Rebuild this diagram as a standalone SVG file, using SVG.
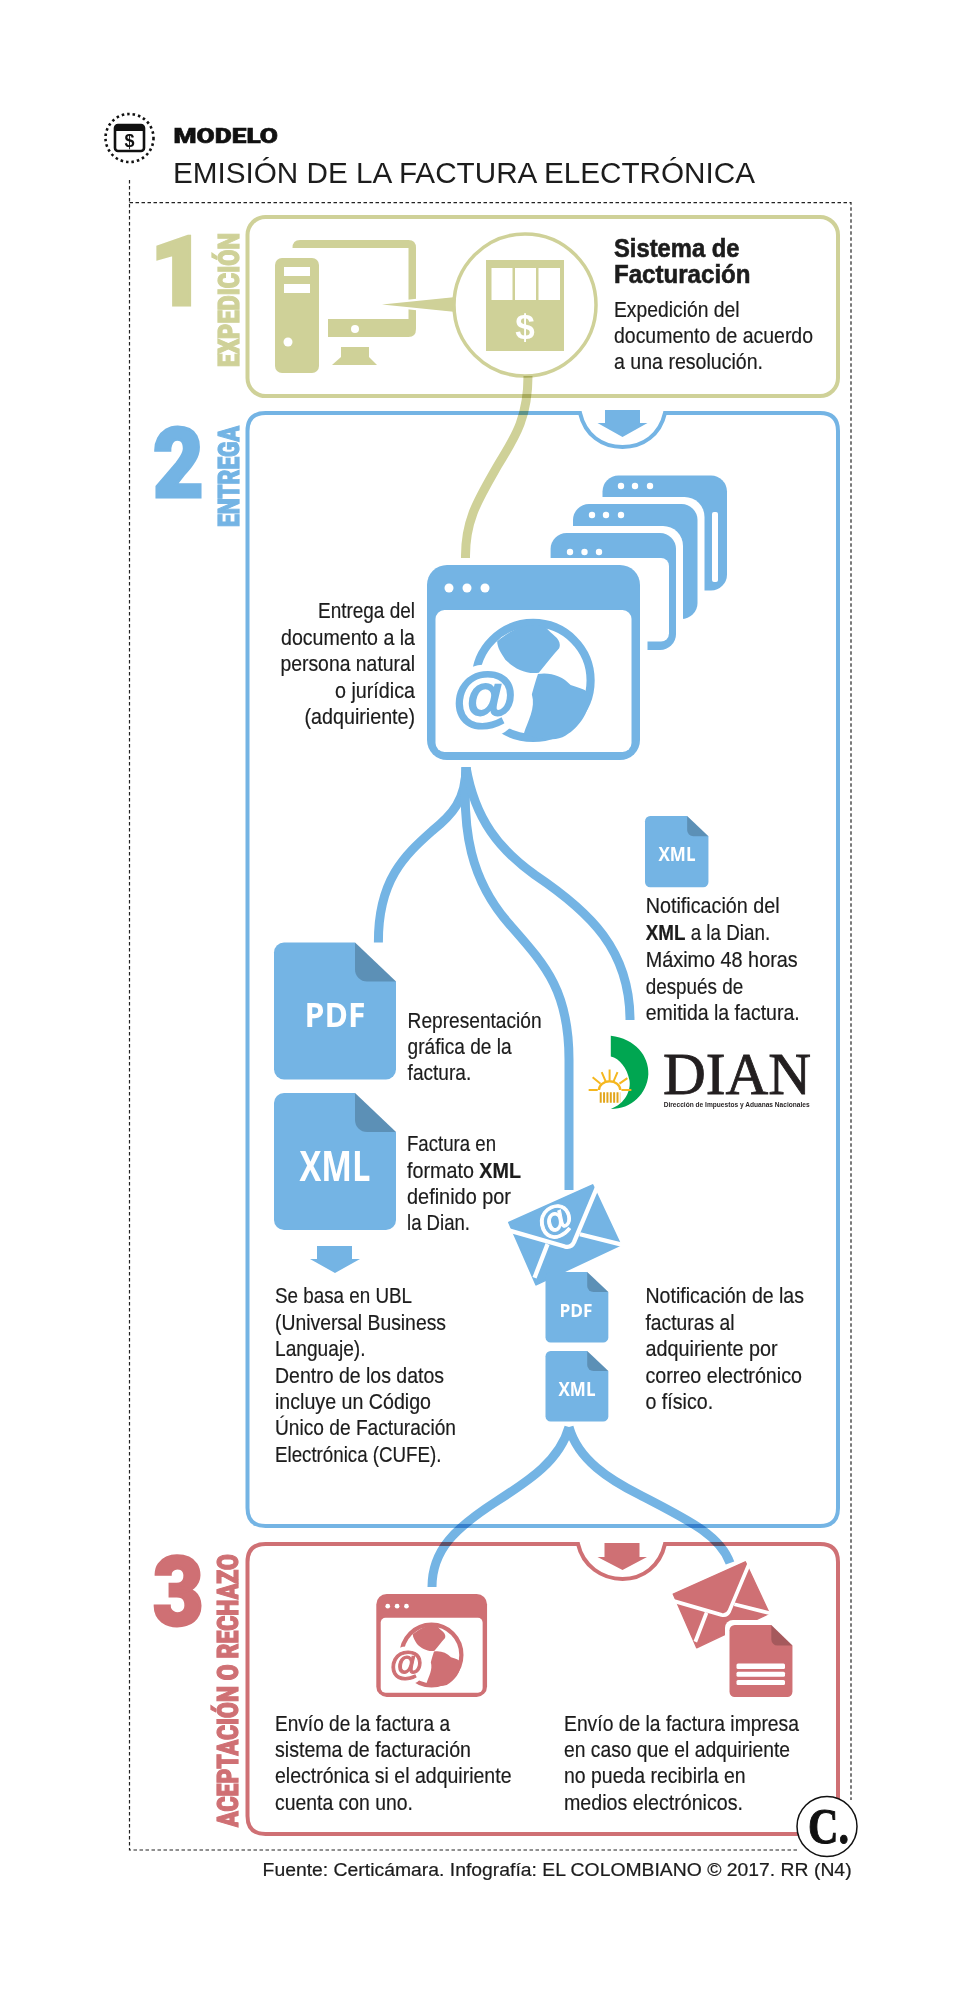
<svg xmlns="http://www.w3.org/2000/svg" xmlns:xlink="http://www.w3.org/1999/xlink" width="979" height="2000" viewBox="0 0 979 2000">
<style>
text{font-family:"Liberation Sans",Arial,sans-serif}
.t{font-size:22.5px;fill:#1c1c1c;stroke:#1c1c1c;stroke-width:.2px}
.lab{font-family:Roboto,"Liberation Sans",sans-serif;font-weight:900;font-size:30px;stroke-width:1.2px}
.num{font-family:Roboto,"Liberation Sans",sans-serif;font-weight:900;font-size:97px;stroke-width:3px}
.b{color:#74b4e4;fill:#74b4e4}
.o{color:#cfd198;fill:#cfd198}
.r{color:#cf7074;fill:#cf7074}
.lab.b,.num.b{stroke:#74b4e4}
.lab.o,.num.o{stroke:#cfd198}
.lab.r,.num.r{stroke:#cf7074}
.box{fill:none;stroke-width:4}
.dash{fill:none;stroke:#222;stroke-width:1.2;stroke-dasharray:3.5 2.5}
.conn{fill:none;stroke-width:9}
.wt{fill:#fff;font-weight:700;font-family:"Open Sans","Liberation Sans",sans-serif}
</style>
<defs>
<g id="doc">
<path fill="currentColor" d="M10 0H81L122 39V127a10 10 0 0 1-10 10H10a10 10 0 0 1-10-10V10a10 10 0 0 1 10-10z"/>
<path fill="#000" opacity=".2" d="M81 0L122 39H93a12 12 0 0 1-12-12z"/>
</g>
<g id="win">
<rect width="213" height="195" rx="20" fill="currentColor"/>
<rect x="8.5" y="45" width="196" height="142" rx="9" fill="#fff"/>
<circle cx="22" cy="23" r="4.5" fill="#fff"/><circle cx="40" cy="23" r="4.5" fill="#fff"/><circle cx="58" cy="23" r="4.5" fill="#fff"/>
<g transform="scale(.408) translate(-508 -258)">
<circle cx="768" cy="541" r="141" fill="none" stroke="currentColor" stroke-width="20"/>
<path fill="currentColor" d="M680 445C720 410 770 395 800 412C815 430 840 440 832 462C815 480 800 500 782 522C750 527 720 510 700 490C690 475 680 460 680 445Z"/>
<path fill="currentColor" d="M780 525C810 520 840 530 860 552C880 560 900 560 908 580C905 620 880 660 840 680C810 690 780 685 745 672C755 640 775 610 765 575C770 555 775 540 780 525Z"/>
<circle cx="650" cy="592" r="90" fill="#fff"/>
<text x="650" y="634" text-anchor="middle" font-size="160" font-weight="700" fill="currentColor" stroke="currentColor" stroke-width="5">@</text>
</g>
</g>
<g id="env">
<path fill="currentColor" stroke="currentColor" stroke-width="4" stroke-linejoin="round" d="M680 765L892 670L963 822L749 923Z"/>
<path fill="none" stroke="#fff" stroke-width="11" d="M680 785L822 826Q838 830 845 815L905 672M778 820L745 905M860 795L968 822"/>
</g>
</defs>
<rect width="979" height="2000" fill="#fff"/>

<g id="frame">
<path class="dash" d="M129.5 180V1850H798M129.5 202.7H851V1800"/>
</g>
<g id="header">
<circle cx="129.5" cy="138" r="24" fill="none" stroke="#111" stroke-width="2.6" stroke-dasharray="2.5 3"/>
<rect x="115" y="125" width="29" height="26" rx="3" fill="#fff" stroke="#111" stroke-width="2.6"/>
<rect x="115" y="125" width="29" height="6" fill="#111"/>
<text x="129.5" y="147" text-anchor="middle" font-size="18" font-weight="700" fill="#111">$</text>
<text x="173.500" y="143" font-size="21" font-weight="900" fill="#111" stroke="#111" stroke-width=".6" style="font-family:Roboto,sans-serif" textLength="104.500" lengthAdjust="spacingAndGlyphs">MODELO</text>
<text x="173" y="183" font-size="30" fill="#1c1c1c" textLength="582" lengthAdjust="spacingAndGlyphs">EMISIÓN DE LA FACTURA ELECTRÓNICA</text>
</g>

<g id="paso-1">
<rect class="box" x="247.500" y="217" width="590.500" height="179" rx="18" stroke="#cfd198"/>
<text class="num o" x="150" y="304.500">1</text>
<text class="lab o" transform="translate(239 367) rotate(-90)" textLength="134" lengthAdjust="spacingAndGlyphs">EXPEDICIÓN</text>
</g>
<g id="computador" class="o">
<path d="M292.500 248Q292.500 240 300 240H408.500Q416 240 416 248V329Q416 337 408.500 337H328V319H408.500V248Z"/>
<rect x="275" y="258" width="44" height="115" rx="7"/>
<rect x="284" y="267" width="26" height="9" fill="#fff"/><rect x="284" y="284" width="26" height="9" fill="#fff"/>
<circle cx="288" cy="342" r="4.500" fill="#fff"/><circle cx="355" cy="329" r="4" fill="#fff"/>
<path d="M341 347H369V357L377 365H332L341 357Z"/>
<path stroke="#fff" stroke-width="3" d="M378 304.500L456 296V313Z"/>
<path d="M382 304.500L456 297V312Z"/>
</g>
<g id="sistema">
<circle cx="525" cy="305" r="71" fill="#fff" stroke="#cfd198" stroke-width="3.500"/>
<rect class="o" x="486" y="260" width="78" height="91"/>
<rect x="491.500" y="268" width="21" height="32" fill="#fff"/><rect x="515" y="268" width="21" height="32" fill="#fff"/><rect x="538.500" y="268" width="21.500" height="32" fill="#fff"/>
<text x="525" y="339" text-anchor="middle" font-size="35" font-weight="700" fill="#fff">$</text>
<text class="t" x="614" y="257" style="font-size:25px;font-weight:700;stroke-width:.6px" textLength="125.500" lengthAdjust="spacingAndGlyphs">Sistema de</text>
<text class="t" x="614" y="283" style="font-size:25px;font-weight:700;stroke-width:.6px" textLength="136.500" lengthAdjust="spacingAndGlyphs">Facturación</text>
<text class="t" x="614" y="316.700" textLength="125.500" lengthAdjust="spacingAndGlyphs">Expedición del</text>
<text class="t" x="614" y="342.700" textLength="199" lengthAdjust="spacingAndGlyphs">documento de acuerdo</text>
<text class="t" x="614" y="369.300" textLength="149" lengthAdjust="spacingAndGlyphs">a una resolución.</text>
</g>

<g id="paso-2">
<path class="box" stroke="#74b4e4" d="M265.500 413H580C585 435 602 447 622.500 447C643 447 660 435 665 413H820Q838 413 838 431V1508Q838 1526 820 1526H265.500Q247.500 1526 247.500 1508V431Q247.500 413 265.500 413Z"/>
<path class="b" d="M605 410H640V423H647.500L622.500 437L597.500 423H605Z"/>
<text class="num b" transform="translate(153 496.500) scale(.9 1)">2</text>
<text class="lab b" transform="translate(239 527) rotate(-90)" textLength="101" lengthAdjust="spacingAndGlyphs">ENTREGA</text>
</g>
<g id="paso-3">
<path class="box" stroke="#cf7074" d="M265.500 1544H578C583 1566 602 1579 622.500 1579C643 1579 660 1566 665 1544H820Q838 1544 838 1562V1816Q838 1834 820 1834H265.500Q247.500 1834 247.500 1816V1562Q247.500 1544 265.500 1544Z"/>
<path class="r" d="M604.500 1543H639.500V1557H647L622.500 1570L597.500 1557H604.500Z"/>
<text class="num r" transform="translate(153 1625) scale(.9 1)">3</text>
<text class="lab r" transform="translate(238 1827) rotate(-90)" textLength="273" lengthAdjust="spacingAndGlyphs">ACEPTACIÓN O RECHAZO</text>
</g>

<g id="connectors">
<g style="mix-blend-mode:multiply">
<path class="conn" stroke="#cfd198" d="M528 376C528 420 513 440 498 465C478 500 465 520 465.500 558"/>
</g>
<g style="mix-blend-mode:multiply" stroke="#74b4e4">
<path class="conn" d="M466 767C466 800 452 815 432 831C405 855 378 880 378.400 942.500"/>
<path class="conn" d="M466 767C462 830 470 880 510 925C545 965 569 990 569 1060V1190"/>
<path class="conn" d="M466 767C475 820 500 850 535 875C590 912 630 950 630 1020"/>
<path class="conn" d="M569 1427C560 1460 530 1480 497 1501C455 1528 432 1550 432 1587"/>
<path class="conn" d="M569 1427C578 1460 610 1480 640 1495C688 1520 720 1535 730 1563"/>
</g>
</g>

<g id="ventanas" class="b">
<rect x="602.500" y="475.500" width="124.500" height="115" rx="16"/>
<rect x="712" y="512" width="6" height="70" rx="2" fill="#fff"/>
<circle cx="621" cy="486" r="3.200" fill="#fff"/><circle cx="635" cy="486" r="3.200" fill="#fff"/><circle cx="650" cy="486" r="3.200" fill="#fff"/>
<rect x="566" y="497" width="138.500" height="129" rx="20" fill="#fff"/>
<rect x="573" y="504" width="124.500" height="115" rx="16"/>
<circle cx="592" cy="515" r="3.200" fill="#fff"/><circle cx="606" cy="515" r="3.200" fill="#fff"/><circle cx="621" cy="515" r="3.200" fill="#fff"/>
<rect x="543.600" y="526" width="139.400" height="131" rx="20" fill="#fff"/>
<rect x="550.600" y="533" width="125.400" height="117" rx="16"/>
<rect x="560" y="558" width="109" height="83.500" rx="8" fill="#fff"/>
<circle cx="570" cy="552" r="3.200" fill="#fff"/><circle cx="584.500" cy="552" r="3.200" fill="#fff"/><circle cx="599" cy="552" r="3.200" fill="#fff"/>
<rect x="420" y="558" width="227.500" height="209" rx="26" fill="#fff"/>
<use xlink:href="#win" href="#win" x="427" y="565"/>
</g>
<g id="entrega-texto">
<text class="t" x="318" y="618" textLength="97" lengthAdjust="spacingAndGlyphs">Entrega del</text>
<text class="t" x="281" y="644.500" textLength="134" lengthAdjust="spacingAndGlyphs">documento a la</text>
<text class="t" x="280.400" y="671" textLength="134.700" lengthAdjust="spacingAndGlyphs">persona natural</text>
<text class="t" x="335" y="697.500" textLength="80" lengthAdjust="spacingAndGlyphs">o jurídica</text>
<text class="t" x="304.500" y="724" textLength="110.600" lengthAdjust="spacingAndGlyphs">(adquiriente)</text>
</g>
<g id="notificacion-dian" class="b">
<use href="#doc" xlink:href="#doc" transform="translate(645 816) scale(.52)"/>
<text class="wt" x="677" y="861" text-anchor="middle" font-size="19" textLength="37" lengthAdjust="spacingAndGlyphs">XML</text>
<text class="t" x="645.700" y="913" textLength="134" lengthAdjust="spacingAndGlyphs">Notificación del</text>
<text class="t" x="645.700" y="940" textLength="124.500" lengthAdjust="spacingAndGlyphs"><tspan font-weight="700">XML</tspan> a la Dian.</text>
<text class="t" x="645.700" y="967" textLength="152" lengthAdjust="spacingAndGlyphs">Máximo 48 horas</text>
<text class="t" x="645.700" y="993.500" textLength="97.500" lengthAdjust="spacingAndGlyphs">después de</text>
<text class="t" x="645.700" y="1020" textLength="154" lengthAdjust="spacingAndGlyphs">emitida la factura.</text>
</g>
<g id="dian">
<g transform="translate(240 920) scale(.3953)">
<path fill="#00a651" d="M938 293C1000 300 1035 345 1033 390C1030 440 990 478 938 478C975 465 990 430 985 405C980 375 960 350 938 345Z"/>
<path fill="none" stroke="#f5b71f" stroke-width="5" d="M882 430H905M965 430H990M892 398L912 414M980 400L960 414M915 385L925 408M955 385L945 408M935 378V405"/>
<path fill="none" stroke="#f5b71f" stroke-width="6" d="M908 430A27 22 0 0 1 962 430"/>
<path fill="none" stroke="#e2a51a" stroke-width="26" stroke-dasharray="5 3.500" d="M910 449H962"/>
</g>
<text x="663" y="1094" style="font-family:'Liberation Serif',serif" font-size="59" fill="#231f20" stroke="#231f20" stroke-width=".8" textLength="148" lengthAdjust="spacingAndGlyphs">DIAN</text>
<text x="663.700" y="1106.500" font-size="7.500" font-weight="700" fill="#231f20" textLength="146" lengthAdjust="spacingAndGlyphs">Dirección de Impuestos y Aduanas Nacionales</text>
</g>
<g id="pdf-xml" class="b">
<use href="#doc" xlink:href="#doc" transform="translate(274 942.500)"/>
<text class="wt" x="335" y="1027" text-anchor="middle" font-size="34" textLength="61" lengthAdjust="spacingAndGlyphs">PDF</text>
<use href="#doc" xlink:href="#doc" transform="translate(274 1093)"/>
<text class="wt" x="335" y="1181" text-anchor="middle" font-size="41" textLength="71" lengthAdjust="spacingAndGlyphs">XML</text>
<path d="M317 1246H352V1259H360L335 1273L310 1259H317Z"/>
</g>
<g id="pdf-xml-texto">
<text class="t" x="407.600" y="1028" textLength="134" lengthAdjust="spacingAndGlyphs">Representación</text>
<text class="t" x="407.600" y="1054.400" textLength="104" lengthAdjust="spacingAndGlyphs">gráfica de la</text>
<text class="t" x="407.600" y="1080" textLength="63.600" lengthAdjust="spacingAndGlyphs">factura.</text>
<text class="t" x="407" y="1151" textLength="89" lengthAdjust="spacingAndGlyphs">Factura en</text>
<text class="t" x="407" y="1177.700" textLength="114" lengthAdjust="spacingAndGlyphs">formato <tspan font-weight="700">XML</tspan></text>
<text class="t" x="407" y="1204" textLength="104" lengthAdjust="spacingAndGlyphs">definido por</text>
<text class="t" x="407" y="1230" textLength="63" lengthAdjust="spacingAndGlyphs">la Dian.</text>
<text class="t" x="275" y="1303.400" textLength="137" lengthAdjust="spacingAndGlyphs">Se basa en UBL</text>
<text class="t" x="275" y="1329.500" textLength="171" lengthAdjust="spacingAndGlyphs">(Universal Business</text>
<text class="t" x="275" y="1356" textLength="90.500" lengthAdjust="spacingAndGlyphs">Languaje).</text>
<text class="t" x="275" y="1382.500" textLength="169" lengthAdjust="spacingAndGlyphs">Dentro de los datos</text>
<text class="t" x="275" y="1409" textLength="156" lengthAdjust="spacingAndGlyphs">incluye un Código</text>
<text class="t" x="275" y="1435" textLength="181" lengthAdjust="spacingAndGlyphs">Único de Facturación</text>
<text class="t" x="275" y="1462" textLength="166.400" lengthAdjust="spacingAndGlyphs">Electrónica (CUFE).</text>
</g>
<g id="correo" class="b">
<use href="#env" xlink:href="#env" transform="translate(240 920) scale(.3953)"/>
<text transform="translate(560 1231) rotate(-24)" text-anchor="middle" font-size="37" font-weight="700" fill="#fff" stroke="#fff" stroke-width="1">@</text>
<use href="#doc" xlink:href="#doc" transform="translate(545.500 1272) scale(.515)"/>
<text class="wt" x="576" y="1317" text-anchor="middle" font-size="17" textLength="33" lengthAdjust="spacingAndGlyphs">PDF</text>
<use href="#doc" xlink:href="#doc" transform="translate(545.500 1351) scale(.515)"/>
<text class="wt" x="577" y="1396" text-anchor="middle" font-size="20" textLength="37" lengthAdjust="spacingAndGlyphs">XML</text>
</g>
<g id="correo-texto">
<text class="t" x="645.500" y="1303.400" textLength="158.500" lengthAdjust="spacingAndGlyphs">Notificación de las</text>
<text class="t" x="645.500" y="1329.500" textLength="89" lengthAdjust="spacingAndGlyphs">facturas al</text>
<text class="t" x="645.500" y="1356" textLength="132" lengthAdjust="spacingAndGlyphs">adquiriente por</text>
<text class="t" x="645.500" y="1382.500" textLength="156.500" lengthAdjust="spacingAndGlyphs">correo electrónico</text>
<text class="t" x="645.500" y="1409" textLength="67.600" lengthAdjust="spacingAndGlyphs">o físico.</text>
</g>
<g id="envio-web" class="r">
<use href="#win" xlink:href="#win" transform="translate(376.300 1594) scale(.52 .528)"/>
<text class="t" x="275" y="1730.700" textLength="175" lengthAdjust="spacingAndGlyphs">Envío de la factura a</text>
<text class="t" x="275" y="1757" textLength="196" lengthAdjust="spacingAndGlyphs">sistema de facturación</text>
<text class="t" x="275" y="1783" textLength="236.500" lengthAdjust="spacingAndGlyphs">electrónica si el adquiriente</text>
<text class="t" x="275" y="1810" textLength="138" lengthAdjust="spacingAndGlyphs">cuenta con uno.</text>
</g>
<g id="envio-impresa" class="r">
<use href="#env" xlink:href="#env" transform="translate(442 1334) scale(.34)"/>
<rect x="725" y="1620" width="72" height="82" rx="8" fill="#fff"/>
<use href="#doc" xlink:href="#doc" transform="translate(729.500 1625) scale(.516 .526)"/>
<rect x="736.500" y="1663.500" width="48.500" height="5.500" rx="1.500" fill="#fff"/>
<rect x="736.500" y="1671.700" width="48.500" height="5" rx="1.500" fill="#fff"/>
<rect x="736.500" y="1680" width="48.500" height="5" rx="1.500" fill="#fff"/>
<text class="t" x="564" y="1730.700" textLength="235" lengthAdjust="spacingAndGlyphs">Envío de la factura impresa</text>
<text class="t" x="564" y="1757" textLength="226" lengthAdjust="spacingAndGlyphs">en caso que el adquiriente</text>
<text class="t" x="564" y="1783" textLength="181.600" lengthAdjust="spacingAndGlyphs">no pueda recibirla en</text>
<text class="t" x="564" y="1810" textLength="179" lengthAdjust="spacingAndGlyphs">medios electrónicos.</text>
</g>
<g id="logo">
<circle cx="827" cy="1826.500" r="30" fill="#fff" stroke="#111" stroke-width="1.500"/>
<text x="808" y="1843" font-size="50" font-weight="700" fill="#111" stroke="#111" stroke-width="1" style="font-family:'Liberation Serif',serif" textLength="41" lengthAdjust="spacingAndGlyphs">C.</text>
</g>
<text id="fuente" x="262.600" y="1876" font-size="17.500" fill="#1c1c1c" stroke="#1c1c1c" stroke-width=".2" textLength="589" lengthAdjust="spacingAndGlyphs">Fuente: Certicámara. Infografía: EL COLOMBIANO © 2017. RR (N4)</text>
</svg>
